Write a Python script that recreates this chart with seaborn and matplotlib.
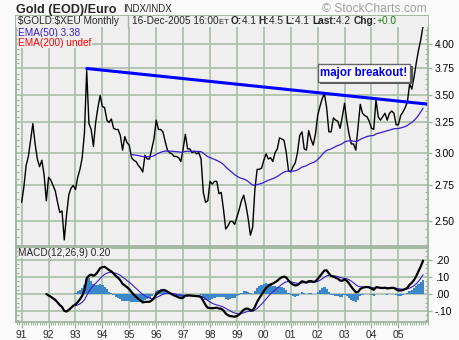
import numpy as np
import pandas as pd
import matplotlib
matplotlib.use("Agg")
import matplotlib.pyplot as plt
import matplotlib.patheffects as pe
import seaborn as sns
from matplotlib.ticker import FixedLocator, FixedFormatter, NullFormatter, MultipleLocator

sns.set_theme(style="white")
plt.rcParams['font.family'] = ['Liberation Sans', 'DejaVu Sans']

# Monthly closes of $GOLD:$XEU, Jan 1991 .. Dec 2005
first_year = 1991
close = [
    2.63, 2.74, 2.90, 2.97, 3.10, 3.24, 3.07, 2.95, 2.89, 2.94, 2.83, 2.64,
    2.81, 2.79, 2.75, 2.71, 2.63, 2.56, 2.57, 2.38, 2.54, 2.68, 2.73, 2.75,
    2.72, 2.81, 2.87, 2.96, 3.16, 3.73, 3.24, 3.19, 3.05, 3.25, 3.38, 3.49,
    3.39, 3.38, 3.27, 3.25, 3.28, 3.20, 3.19, 3.19, 3.14, 3.02, 3.13, 3.08,
    3.06, 2.96, 2.94, 2.93, 2.90, 2.88, 2.85, 2.98, 2.95, 2.95, 3.03, 3.11,
    3.27, 3.19, 3.19, 3.17, 3.09, 3.02, 3.00, 2.99, 2.97, 2.97, 2.96, 2.93,
    3.03, 3.15, 3.03, 3.03, 3.00, 3.01, 2.99, 3.00, 2.95, 2.70, 2.63, 2.64,
    2.78, 2.76, 2.78, 2.78, 2.69, 2.70, 2.58, 2.45, 2.47, 2.50, 2.50, 2.48,
    2.53, 2.58, 2.64, 2.68, 2.61, 2.52, 2.41, 2.46, 2.72, 2.87, 2.87, 2.88,
    2.94, 2.99, 2.95, 2.96, 2.93, 3.00, 3.03, 3.12, 3.11, 3.10, 3.00, 2.86,
    2.85, 2.89, 2.92, 3.00, 3.14, 3.17, 3.03, 3.02, 3.18, 3.11, 3.06, 3.15,
    3.31, 3.39, 3.46, 3.51, 3.38, 3.17, 3.17, 3.29, 3.27, 3.26, 3.20, 3.30,
    3.42, 3.26, 3.15, 3.07, 3.07, 3.02, 3.21, 3.41, 3.33, 3.31, 3.30, 3.26,
    3.20, 3.19, 3.45, 3.30, 3.27, 3.30, 3.33, 3.27, 3.33, 3.35, 3.33, 3.23,
    3.23, 3.31, 3.34, 3.38, 3.43, 3.60, 3.55, 3.67, 3.81, 3.94, 4.05, 4.20,
]

# Hand-drawn resistance line (date, price) endpoints
trend_t = [1993.42, 2006.15]
trend_p = [3.75, 3.41]

price_ticks = [2.50, 2.75, 3.00, 3.25, 3.50, 3.75, 4.00]
price_tick_labels = ["2.50", "2.75", "3.00", "3.25", "3.50", "3.75", "4.00"]
macd_ticks = [-0.10, 0.00, 0.10, 0.20]
macd_tick_labels = ["-.10", ".00", ".10", ".20"]
years = list(range(1991, 2006))
year_labels = ["91", "92", "93", "94", "95", "96", "97", "98", "99",
               "00", "01", "02", "03", "04", "05"]

# ---- indicators ----------------------------------------------------------
s = pd.Series(close, dtype=float)
t = first_year + np.arange(len(s)) / 12.0


def ema_from(series, n, start, seed):
    """EMA of length n, seeded with `seed` at position `start`."""
    out = pd.Series(np.nan, index=series.index)
    out.iloc[start] = seed
    a = 2.0 / (n + 1)
    for k in range(start + 1, len(series)):
        out.iloc[k] = a * series.iloc[k] + (1 - a) * out.iloc[k - 1]
    return out


ema50 = ema_from(s, 50, 49, s.iloc[:50].mean())

MACD_START = 11
seed = s.iloc[:MACD_START + 1].mean()
macd = ema_from(s, 12, MACD_START, seed) - ema_from(s, 26, MACD_START, seed)
signal = ema_from(macd, 9, MACD_START, 0.0)
hist = macd - signal
SIG_START = 24

# ---- layout --------------------------------------------------------------
W, H = 460, 340
BG = "#efefef"
GRID = "#adc2ad"
EDGE = "#9fb49f"


def rect(l, tp, r, b):
    return [l / W, 1 - b / H, (r - l) / W, (b - tp) / H]


fig = plt.figure(figsize=(W / 100, H / 100), dpi=100)
fig.patch.set_facecolor("#fbfbfb")
ax = fig.add_axes(rect(16, 16, 428, 246))
axm = fig.add_axes(rect(16, 248, 428, 322))

x0, x1 = 1990.79, 2006.10

for a in (ax, axm):
    a.set_facecolor(BG)
    for sp in a.spines.values():
        sp.set_color(EDGE)
        sp.set_linewidth(1.3)
    a.set_axisbelow(True)
    a.grid(True, color=GRID, lw=1.3)
    a.set_xlim(x0, x1)
    a.xaxis.set_major_locator(FixedLocator(years))
    a.xaxis.set_minor_locator(MultipleLocator(1 / 12))
    a.yaxis.tick_right()
    a.tick_params(axis="y", which="major", length=3, width=1, color=EDGE,
                  labelsize=7.4, pad=2, labelcolor="black")
    a.tick_params(axis="both", which="minor", length=2, width=0.8, color=EDGE)

# ---- price panel ---------------------------------------------------------
sns.lineplot(x=t, y=s.values, ax=ax, color="black", lw=1.0)
valid = ema50.notna().values
sns.lineplot(x=t[valid], y=ema50.values[valid], ax=ax, color="#3a1ccf", lw=0.9)
sns.lineplot(x=trend_t, y=trend_p, ax=ax, color="#0000ff", lw=2.2)

ax.set_yscale("log")
ax.set_ylim(2.342, 4.31)
ax.yaxis.set_major_locator(FixedLocator(price_ticks))
ax.yaxis.set_major_formatter(FixedFormatter(price_tick_labels))
ax.yaxis.set_minor_locator(FixedLocator(np.arange(2.35, 4.31, 0.05)))
ax.yaxis.set_minor_formatter(NullFormatter())
ax.tick_params(axis="y", which="minor", left=True, right=True, direction="in")
ax.tick_params(axis="x", which="both", bottom=True, top=False, labelbottom=False,
               length=2, color=EDGE)
ax.set_xlabel("")
ax.set_ylabel("")

# header strip
ax.add_patch(plt.Rectangle((0, 1 - 11 / 230), 1, 11 / 230, transform=ax.transAxes,
                           facecolor=BG, edgecolor="none", zorder=3))
ax.plot([112 / 412, 112 / 412], [1 - 11 / 230, 1], transform=ax.transAxes,
        color=EDGE, lw=1, zorder=4)

fs_h = 7.2
ax.annotate(r"\$GOLD:\$XEU Monthly", xy=(18, H - 24.5), xycoords="figure pixels",
            fontsize=fs_h, va="baseline", zorder=5)

pieces = [
    ("16-Dec-2005 16:00", dict()),
    ("ET ", dict(fontsize=5.5)),
    ("O:", dict(fontweight="bold")),
    ("4.1 ", dict()),
    ("H:", dict(fontweight="bold")),
    ("4.5 ", dict()),
    ("L:", dict(fontweight="bold")),
    ("4.1 ", dict()),
    ("Last:", dict(fontweight="bold")),
    ("4.2 ", dict()),
    ("Chg:", dict(fontweight="bold")),
    ("+0.0", dict(color="#1a7f1a")),
]
prev = None
for txt, kw in pieces:
    opts = dict(fontsize=7.3, zorder=5)
    opts.update(kw)
    if prev is None:
        prev = ax.annotate(txt, xy=(132, H - 24.5), xycoords="figure pixels",
                           va="baseline", **opts)
    else:
        prev = ax.annotate(txt, xy=(1, 0), xycoords=prev, va="bottom", **opts)

lbl_box = dict(facecolor=BG, edgecolor="none", pad=0.2)
ax.text(18, H - 32.5, "EMA(50) 3.38", transform=None, fontsize=fs_h,
        color="#3a1ccf", va="center", bbox=lbl_box, zorder=5)
ax.text(18, H - 42.5, "EMA(200) undef", transform=None, fontsize=fs_h,
        color="#ff0000", va="center", bbox=lbl_box, zorder=5)

note = ax.text(364, H - 73, "major breakout!", transform=None, fontsize=8.3,
               fontweight="bold", color="#0000e6", ha="center", va="center",
               zorder=6,
               bbox=dict(facecolor="white", edgecolor="#666666", lw=1,
                         boxstyle="square,pad=0.25"))
note.get_bbox_patch().set_path_effects(
    [pe.withSimplePatchShadow(offset=(1.5, -1.5), shadow_rgbFace="#555555", alpha=1)])

# ---- MACD panel ----------------------------------------------------------
bars = pd.DataFrame({"t": t, "hist": hist.values}).iloc[SIG_START:]
sns.barplot(data=bars, x="t", y="hist", ax=axm, native_scale=True, width=1.0,
            color="#3c87c9", errorbar=None, saturation=1, edgecolor="none",
            linewidth=0)
sns.lineplot(x=t[SIG_START:], y=signal.values[SIG_START:], ax=axm,
             color="#3a1ccf", lw=0.8)
sns.lineplot(x=t[MACD_START:], y=macd.values[MACD_START:], ax=axm,
             color="black", lw=1.6)

axm.set_xlim(x0, x1)
axm.set_ylim(-0.163, 0.269)
axm.yaxis.set_major_locator(FixedLocator(macd_ticks))
axm.yaxis.set_major_formatter(FixedFormatter(macd_tick_labels))
axm.yaxis.set_minor_locator(MultipleLocator(0.025))
axm.yaxis.set_minor_formatter(NullFormatter())
axm.tick_params(axis="y", which="minor", left=True, right=True, direction="in")
axm.xaxis.set_major_locator(FixedLocator(years))
axm.xaxis.set_major_formatter(FixedFormatter(year_labels))
axm.tick_params(axis="x", which="major", bottom=True, length=4, width=1, color=EDGE,
                labelsize=7.4, pad=2)
axm.tick_params(axis="x", which="minor", bottom=True, length=2, color=EDGE)
axm.set_xlabel("")
axm.set_ylabel("")

axm.text(18, H - 253, "MACD(12,26,9) 0.20", transform=None, fontsize=fs_h,
         va="center", bbox=lbl_box, zorder=5)

# ---- titles ----------------------------------------------------------------
fig.text(16.5 / W, 1 - 13 / H, "Gold (EOD)/Euro", fontsize=9.1, fontweight="bold",
         va="baseline")
fig.text(123 / W, 1 - 12 / H, "INDX/INDX", fontsize=7, va="baseline")
fig.text(427 / W, 1 - 12 / H, "\u00a9 StockCharts.com", fontsize=8.7,
         color="#a0a0a0", ha="right", va="baseline")

fig.savefig("out.png", dpi=100, facecolor=fig.get_facecolor())
